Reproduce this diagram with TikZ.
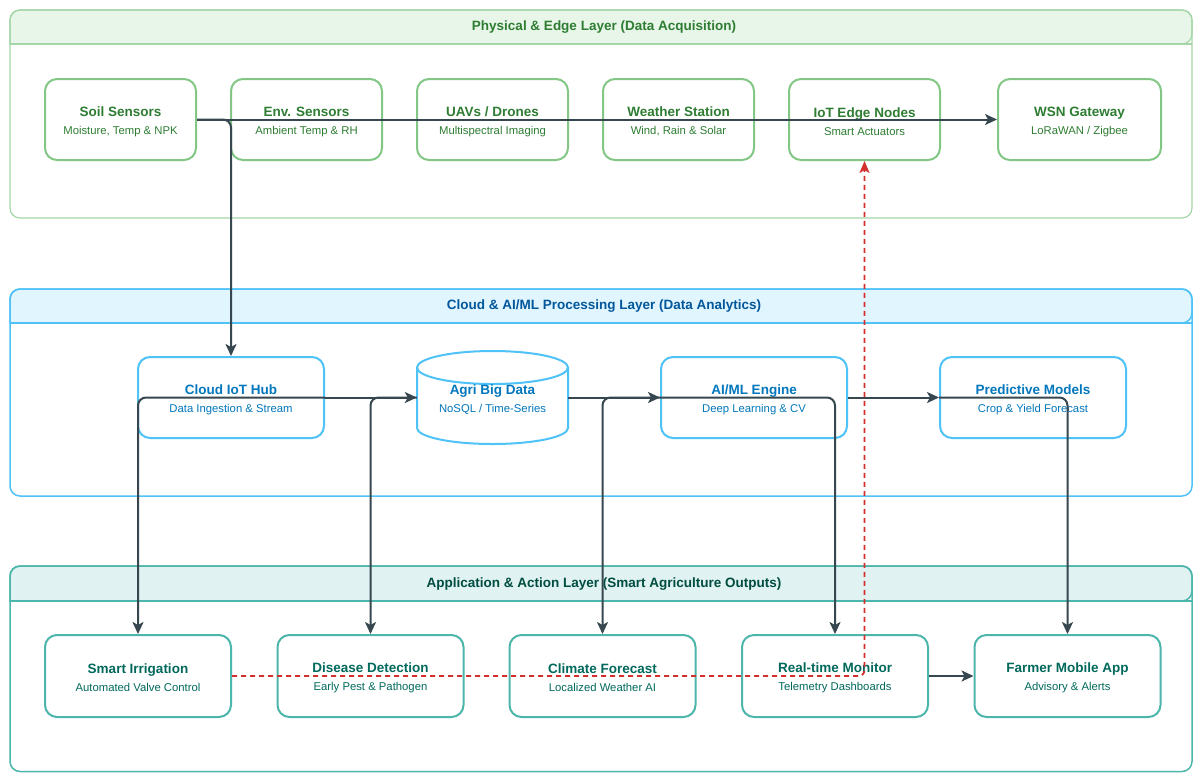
\documentclass[tikz,border=0pt]{standalone}
\usepackage{fontspec}
\setmainfont{Liberation Sans}
\usetikzlibrary{arrows.meta}
\definecolor{gborder}{HTML}{82C785}
\definecolor{gcont}{HTML}{A5D6A7}
\definecolor{ghead}{HTML}{E8F5E9}
\definecolor{gtext}{HTML}{2E7D32}
\definecolor{bborder}{HTML}{4FC3F7}
\definecolor{bhead}{HTML}{E1F5FE}
\definecolor{btext}{HTML}{0277BD}
\definecolor{btitle}{HTML}{01579B}
\definecolor{tborder}{HTML}{4DB6AC}
\definecolor{thead}{HTML}{E0F2F1}
\definecolor{ttext}{HTML}{00695C}
\definecolor{ttitle}{HTML}{004D40}
\definecolor{conncol}{HTML}{37474F}
\definecolor{redcol}{HTML}{D32F2F}
\newcommand\boxtext[2]{{\fontsize{13.5}{18}\selectfont\bfseries\rule{0pt}{14pt}#1}\\{\fontsize{11.3}{18}\selectfont #2}}
\tikzset{
  basebox/.style={line width=2pt, rounded corners=12pt, fill=white, align=center, inner sep=0pt, minimum height=81pt, font=\fontsize{11.3}{18}\selectfont},
  gbox/.style={basebox, draw=gborder, text=gtext, minimum width=151pt},
  bbox/.style={basebox, draw=bborder, text=btext, minimum width=186pt},
  tbox/.style={basebox, draw=tborder, text=ttext, minimum width=186pt, minimum height=82pt},
  conn/.style={draw=conncol, line width=2pt, rounded corners=8pt, -{Stealth[length=12pt,width=11pt,inset=3pt]}},
  redconn/.style={draw=redcol, line width=1.8pt, dash pattern=on 5pt off 4pt, rounded corners=6pt, -{Stealth[length=12pt,width=10pt,inset=3pt]}},
  layertitle/.style={font=\fontsize{13.5}{16}\selectfont\bfseries},
}
\begin{document}
\begin{tikzpicture}[x=1pt,y=-1pt]
\useasboundingbox (0,0) rectangle (1193,772);
\fill[white] (0,0) rectangle (1193,772);

% Layer 1
\filldraw[fill=ghead, draw=gcont, line width=1.2pt, rounded corners=10pt] (10,44) -- (10,10) -- (1192,10) -- (1192,44) [sharp corners] -- cycle;
\draw[gcont, line width=1.2pt, rounded corners=10pt] (10,10) rectangle (1192,218);
\draw[gcont, line width=1.2pt] (10,44) -- (1192,44);
\node[layertitle, text=gtext] (t1) at (604,27.5) {Physical \& Edge Layer (Data Acquisition)};

% Layer 2
\filldraw[fill=bhead, draw=bborder, line width=1.5pt, rounded corners=10pt] (10,323) -- (10,289) -- (1192,289) -- (1192,323) [sharp corners] -- cycle;
\draw[bborder, line width=1.5pt, rounded corners=10pt] (10,289) rectangle (1192,496);
\draw[bborder, line width=1.5pt] (10,323) -- (1192,323);
\node[layertitle, text=btitle] (t2) at (604,306.5) {Cloud \& AI/ML Processing Layer (Data Analytics)};

% Layer 3
\filldraw[fill=thead, draw=tborder, line width=1.5pt, rounded corners=10pt] (10,601) -- (10,566) -- (1192,566) -- (1192,601) [sharp corners] -- cycle;
\draw[tborder, line width=1.5pt, rounded corners=10pt] (10,566) rectangle (1192,771.5);
\draw[tborder, line width=1.5pt] (10,601) -- (1192,601);
\node[layertitle, text=ttitle] (t3) at (604,584) {Application \& Action Layer (Smart Agriculture Outputs)};

% Layer 1 nodes
\node[gbox] (soil) at (120.5,119.5) {\boxtext{Soil Sensors}{Moisture, Temp \& NPK}};
\node[gbox] (env) at (306.5,119.5) {\boxtext{Env. Sensors}{Ambient Temp \& RH}};
\node[gbox] (uav) at (492.5,119.5) {\boxtext{UAVs / Drones}{Multispectral Imaging}};
\node[gbox] (wst) at (678.5,119.5) {\boxtext{Weather Station}{Wind, Rain \& Solar}};
\node[gbox] (edge) at (864.5,119.5) {\boxtext{IoT Edge Nodes}{Smart Actuators}};
\node[gbox, minimum width=163pt] (wsn) at (1079.5,119.5) {\boxtext{WSN Gateway}{LoRaWAN / Zigbee}};

% Layer 2 nodes
\node[bbox] (hub) at (231,397.5) {\boxtext{Cloud IoT Hub}{Data Ingestion \& Stream}};
\path[fill=white] (417,367.5) -- (417,428) arc[start angle=180,end angle=360,x radius=75.5pt,y radius=16pt] -- (568,367.5) arc[start angle=0,end angle=180,x radius=75.5pt,y radius=16.5pt] -- cycle;
\draw[bborder, line width=2pt] (417,367.5) -- (417,428) arc[start angle=180,end angle=360,x radius=75.5pt,y radius=16pt] -- (568,367.5);
\draw[bborder, line width=2pt] (492.5,367.5) ellipse[x radius=75.5pt, y radius=16.5pt];
\node[align=center, inner sep=0pt, minimum width=151pt, minimum height=93pt, text=btext, font=\fontsize{11.3}{18}\selectfont] (big) at (492.5,397.5) {\boxtext{Agri Big Data}{NoSQL / Time-Series}};
\node[bbox] (ai) at (754,397.5) {\boxtext{AI/ML Engine}{Deep Learning \& CV}};
\node[bbox] (pred) at (1033,397.5) {\boxtext{Predictive Models}{Crop \& Yield Forecast}};

% Layer 3 nodes
\node[tbox] (irr) at (138,676) {\boxtext{Smart Irrigation}{Automated Valve Control}};
\node[tbox] (dis) at (370.5,676) {\boxtext{Disease Detection}{Early Pest \& Pathogen}};
\node[tbox] (clim) at (602.5,676) {\boxtext{Climate Forecast}{Localized Weather AI}};
\node[tbox] (mon) at (835,676) {\boxtext{Real-time Monitor}{Telemetry Dashboards}};
\node[tbox] (farm) at (1067.5,676) {\boxtext{Farmer Mobile App}{Advisory \& Alerts}};

% Connectors
\draw[conn] (soil.east) -- (wsn.west);
\draw[conn] (soil.east) -| (hub.north);
\draw[conn] (hub.east) -- (big.west);
\draw[conn] (hub.east) -| (irr.north);
\draw[conn] (big.west) -| (dis.north);
\draw[conn] (big.east) -- (ai.west);
\draw[conn] (ai.west) -| (clim.north);
\draw[conn] (ai.east) -- (pred.west);
\draw[conn] (ai.west) -| (mon.north);
\draw[conn] (pred.west) -| (farm.north);
\draw[conn] (mon.east) -- (farm.west);
\draw[redconn] (irr.east) -| (edge.south);
\end{tikzpicture}
\end{document}
